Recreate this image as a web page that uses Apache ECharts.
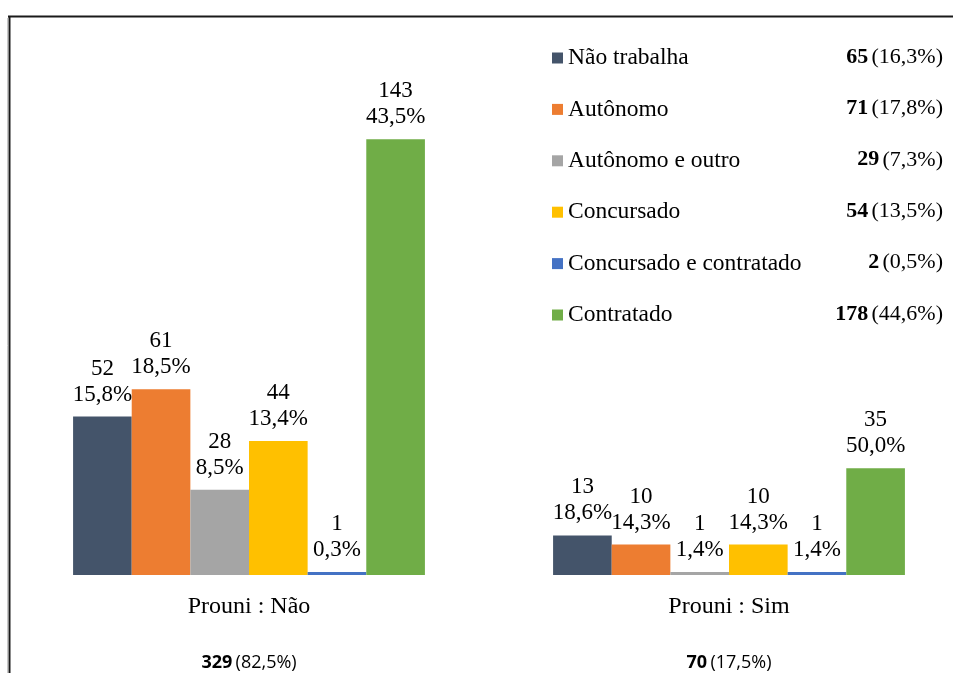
<!DOCTYPE html>
<html>
<head>
<meta charset="utf-8">
<script src="https://cdn.jsdelivr.net/npm/echarts@6/dist/echarts.min.js"></script>
<style>html,body{margin:0;padding:0;background:#fff}#c{width:953px;height:673px}</style>
</head>
<body>
<div id="c"></div>
<script>
// ---- data ----
const categories = ['Prouni : Não', 'Prouni : Sim'];
const groupTotals = [329, 70];
const groupPcts = ['82,5%', '17,5%'];
const seriesNames = ['Não trabalha', 'Autônomo', 'Autônomo e outro', 'Concursado', 'Concursado e contratado', 'Contratado'];
const naoTrabalha = [52, 13];
const autonomo = [61, 10];
const autonomoOutro = [28, 1];
const concursado = [44, 10];
const concContratado = [1, 1];
const contratado = [143, 35];
const naoTrabalhaPct = ['15,8%', '18,6%'];
const autonomoPct = ['18,5%', '14,3%'];
const autonomoOutroPct = ['8,5%', '1,4%'];
const concursadoPct = ['13,4%', '14,3%'];
const concContratadoPct = ['0,3%', '1,4%'];
const contratadoPct = ['43,5%', '50,0%'];
const legendCounts = [65, 71, 29, 54, 2, 178];
const legendPcts = ['16,3%', '17,8%', '7,3%', '13,5%', '0,5%', '44,6%'];
const colors = ['#44546A', '#ED7D31', '#A5A5A5', '#FFC000', '#4472C4', '#70AD47'];

const values = [naoTrabalha, autonomo, autonomoOutro, concursado, concContratado, contratado];
const pcts = [naoTrabalhaPct, autonomoPct, autonomoOutroPct, concursadoPct, concContratadoPct, contratadoPct];

const serif = '"Liberation Serif", "Times New Roman", serif';
const sans = '"Open Sans", sans-serif';

const series = seriesNames.map((name, i) => ({
  name: name,
  type: 'bar',
  data: values[i],
  barGap: '0%',
  barCategoryGap: '26.7%',
  itemStyle: { color: colors[i] },
  label: {
    show: true,
    position: 'top',
    distance: 9,
    color: '#000',
    fontFamily: serif,
    fontSize: 23,
    lineHeight: 26,
    formatter: p => p.value + '\n' + pcts[i][p.dataIndex]
  }
}));

const graphics = [
  { type: 'line', shape: { x1: 8, y1: 16.5, x2: 953, y2: 16.5 }, style: { stroke: '#1a1a1a', lineWidth: 2 } },
  { type: 'line', shape: { x1: 9.5, y1: 16, x2: 9.5, y2: 673 }, style: { stroke: '#1a1a1a', lineWidth: 2 } },
  { type: 'line', shape: { x1: 7.5, y1: 18, x2: 7.5, y2: 673 }, style: { stroke: '#c8c8c8', lineWidth: 1 } }
];
legendCounts.forEach((c, i) => {
  graphics.push({
    type: 'text',
    x: 943,
    y: 57 + i * 51.4,
    style: {
      text: '{b|' + c + '} {p|(' + legendPcts[i] + ')}',
      align: 'right',
      verticalAlign: 'middle',
      rich: {
        b: { fontFamily: serif, fontWeight: 'bold', fontSize: 22, fill: '#000' },
        p: { fontFamily: serif, fontSize: 22, fill: '#000' }
      }
    }
  });
});

const chart = echarts.init(document.getElementById('c'), null, { renderer: 'canvas' });
chart.setOption({
  animation: false,
  backgroundColor: '#fff',
  color: colors,
  grid: { left: 9, width: 960, top: 118, bottom: 98, containLabel: false, outerBoundsMode: 'none' },
  legend: {
    orient: 'vertical',
    left: 547,
    top: 41,
    itemWidth: 11,
    itemHeight: 11,
    itemGap: 27.4,
    icon: 'rect',
    data: seriesNames,
    textStyle: { fontFamily: serif, fontSize: 23.5, lineHeight: 24, color: '#000' }
  },
  xAxis: {
    type: 'category',
    data: categories,
    axisLine: { show: false },
    axisTick: { show: false },
    axisLabel: {
      margin: 20,
      interval: 0,
      hideOverlap: false,
      formatter: (v, idx) => '{a|' + v + '}\n{b|' + groupTotals[idx] + '} {c|(' + groupPcts[idx] + ')}',
      rich: {
        a: { fontFamily: serif, fontSize: 24, lineHeight: 24, color: '#000', verticalAlign: 'middle' },
        b: { fontFamily: sans, fontWeight: 'bold', fontSize: 18, lineHeight: 88, color: '#000', verticalAlign: 'middle' },
        c: { fontFamily: sans, fontSize: 18, lineHeight: 88, color: '#000', verticalAlign: 'middle' }
      }
    }
  },
  yAxis: {
    type: 'value',
    min: 0,
    max: 150,
    show: false,
    splitLine: { show: false }
  },
  graphic: graphics,
  series: series
});
</script>
</body>
</html>
